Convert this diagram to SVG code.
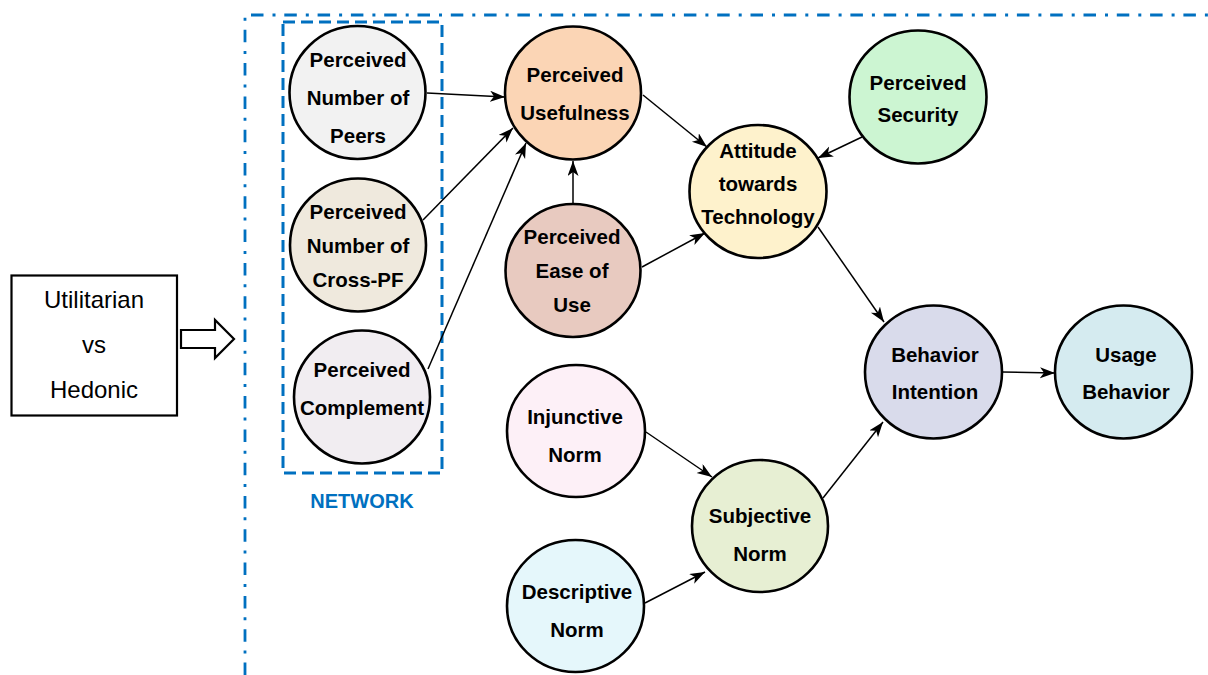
<svg xmlns="http://www.w3.org/2000/svg" width="1208" height="675" viewBox="0 0 1208 675">
<style>
.n{stroke:#000;stroke-width:2.6}
.t{font-family:"Liberation Sans",Arial,sans-serif;font-weight:bold;font-size:20.5px;text-anchor:middle;fill:#000}
.e{stroke:#000;stroke-width:1.5;fill:none;marker-end:url(#ah)}
.u{font-family:"Liberation Sans",Arial,sans-serif;font-size:24px;text-anchor:middle;fill:#000}
</style>
<defs>
<marker id="ah" markerUnits="userSpaceOnUse" markerWidth="16" markerHeight="12" refX="15" refY="5.5" orient="auto">
<path d="M0,0 L15,5.5 L0,11 L4,5.5 z" fill="#000"/>
</marker>
</defs>
<rect width="1208" height="675" fill="#fff"/>
<g id="frame">
<path d="M245,675 L245,15 L1208,15" fill="none" stroke="#0070c0" stroke-width="2.8" stroke-dasharray="12.5 9 3 8.8"/>
</g>
<g id="network">
<rect x="283" y="22" width="159" height="451" fill="none" stroke="#0070c0" stroke-width="3" stroke-dasharray="12 6"/>
<text x="362" y="508" font-family="Liberation Sans,Arial,sans-serif" font-weight="bold" font-size="20" text-anchor="middle" fill="#0070c0">NETWORK</text>
</g>
<g id="utilitarian">
<rect x="11.5" y="275.5" width="165.5" height="140" fill="#fff" stroke="#000" stroke-width="2.2"/>
<text class="u" x="94" y="308">Utilitarian</text>
<text class="u" x="94" y="353">vs</text>
<text class="u" x="94" y="398">Hedonic</text>
</g>
<g id="bigarrow">
<path d="M181,330 L215,330 L215,320 L234,339 L215,358 L215,348 L181,348 z" fill="#fff" stroke="#000" stroke-width="2.2" stroke-linejoin="miter"/>
</g>
<g id="connectors">
<line class="e" x1="427" y1="93" x2="505" y2="97"/>
<line class="e" x1="423" y1="220" x2="513" y2="128"/>
<line class="e" x1="428" y1="369" x2="526" y2="143"/>
<line class="e" x1="573" y1="204" x2="573" y2="161"/>
<line class="e" x1="643" y1="95" x2="707" y2="147"/>
<line class="e" x1="862" y1="137" x2="818" y2="158"/>
<line class="e" x1="642" y1="267" x2="705" y2="233"/>
<line class="e" x1="818" y1="227" x2="884" y2="322"/>
<line class="e" x1="823" y1="498" x2="883" y2="422"/>
<line class="e" x1="1002" y1="372" x2="1055" y2="373"/>
<line class="e" x1="646" y1="432" x2="712" y2="477"/>
<line class="e" x1="645" y1="603" x2="705" y2="572"/>
</g>
<g id="peers">
<ellipse class="n" cx="357.5" cy="92.5" rx="68" ry="66.5" fill="#f2f2f2"/>
<text class="t" x="358" y="67">Perceived</text>
<text class="t" x="358" y="105">Number of</text>
<text class="t" x="358" y="143">Peers</text>
</g>
<g id="crosspf">
<ellipse class="n" cx="358" cy="245" rx="68" ry="66.5" fill="#efe9dd"/>
<text class="t" x="358" y="219">Perceived</text>
<text class="t" x="358" y="253">Number of</text>
<text class="t" x="358" y="287">Cross-PF</text>
</g>
<g id="complement">
<ellipse class="n" cx="362" cy="397" rx="68" ry="66.5" fill="#f1edf1"/>
<text class="t" x="362" y="377">Perceived</text>
<text class="t" x="362" y="415">Complement</text>
</g>
<g id="usefulness">
<ellipse class="n" cx="573" cy="93" rx="68" ry="66.5" fill="#fbd5b5"/>
<text class="t" x="575" y="82">Perceived</text>
<text class="t" x="575" y="120">Usefulness</text>
</g>
<g id="ease">
<ellipse class="n" cx="573" cy="270.5" rx="67.5" ry="66.5" fill="#e8cac0"/>
<text class="t" x="572" y="244">Perceived</text>
<text class="t" x="572" y="278">Ease of</text>
<text class="t" x="572" y="312">Use</text>
</g>
<g id="attitude">
<ellipse class="n" cx="758" cy="191.5" rx="68.5" ry="66.5" fill="#fef2cc"/>
<text class="t" x="758" y="158">Attitude</text>
<text class="t" x="758" y="191">towards</text>
<text class="t" x="758" y="224">Technology</text>
</g>
<g id="security">
<ellipse class="n" cx="918" cy="97" rx="68.5" ry="66.5" fill="#ccf5d2"/>
<text class="t" x="918" y="90">Perceived</text>
<text class="t" x="918" y="122">Security</text>
</g>
<g id="intention">
<ellipse class="n" cx="933.5" cy="372" rx="68.5" ry="66.5" fill="#d9dbeb"/>
<text class="t" x="935" y="362">Behavior</text>
<text class="t" x="935" y="399">Intention</text>
</g>
<g id="usage">
<ellipse class="n" cx="1123.5" cy="372" rx="68.5" ry="66.5" fill="#d5ebf0"/>
<text class="t" x="1126" y="362">Usage</text>
<text class="t" x="1126" y="399">Behavior</text>
</g>
<g id="injunctive">
<ellipse class="n" cx="576" cy="431" rx="69" ry="66" fill="#fdf0f7"/>
<text class="t" x="575" y="424">Injunctive</text>
<text class="t" x="575" y="462">Norm</text>
</g>
<g id="subjective">
<ellipse class="n" cx="760" cy="526" rx="68" ry="66" fill="#e7efd3"/>
<text class="t" x="760" y="523">Subjective</text>
<text class="t" x="760" y="561">Norm</text>
</g>
<g id="descriptive">
<ellipse class="n" cx="575.5" cy="606" rx="68.5" ry="66" fill="#e5f7fb"/>
<text class="t" x="577" y="599">Descriptive</text>
<text class="t" x="577" y="637">Norm</text>
</g>
</svg>
